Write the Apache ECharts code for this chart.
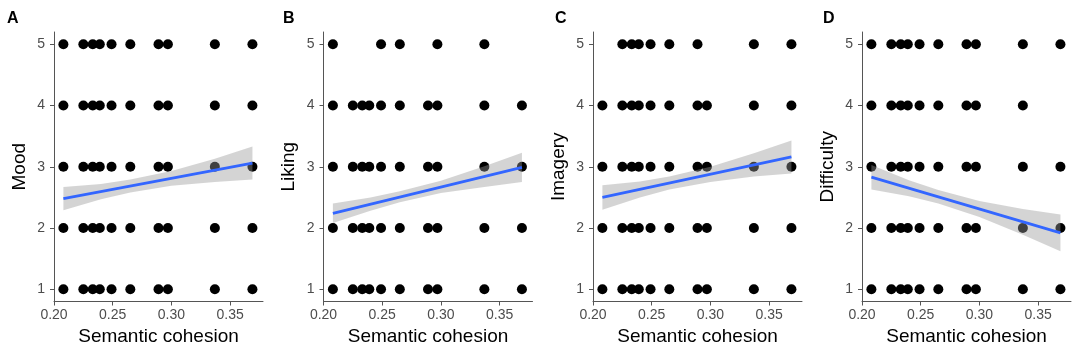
<!DOCTYPE html>
<html>
<head>
<meta charset="utf-8">
<script src="https://cdn.jsdelivr.net/npm/echarts@6/dist/echarts.min.js"></script>
<style>
  html, body { margin: 0; padding: 0; background: #fff; }
  #chart { width: 1084px; height: 360px; }
</style>
</head>
<body>
<div id="chart"></div>
<script>
// Semantic cohesion values of the stimuli (x positions of the dots)
const cohesion = [0.208, 0.225, 0.233, 0.239, 0.249, 0.265, 0.289, 0.297, 0.337, 0.369]
const xTicks = [0.2, 0.25, 0.3, 0.35]
const yTicks = [1, 2, 3, 4, 5]

const panelLetters = ['A', 'B', 'C', 'D']
const panelTitles = ['Mood', 'Liking', 'Imagery', 'Difficulty']

// Which cohesion values have a rating at each level (1..5)
const moodRows = { 1: cohesion, 2: cohesion, 3: cohesion, 4: cohesion, 5: cohesion }
const likingRows = {
  1: cohesion, 2: cohesion, 3: cohesion, 4: cohesion,
  5: [0.208, 0.249, 0.265, 0.297, 0.337],
}
const imageryRows = {
  1: cohesion, 2: cohesion, 3: cohesion, 4: cohesion,
  5: [0.225, 0.233, 0.239, 0.249, 0.265, 0.289, 0.337, 0.369],
}
const difficultyRows = {
  1: cohesion, 2: cohesion, 3: cohesion,
  4: [0.208, 0.225, 0.233, 0.239, 0.249, 0.265, 0.289, 0.297, 0.337],
  5: cohesion,
}

// Linear fit (ends) and confidence band
const fitX = [0.208, 0.369]
const moodFit = [2.48, 3.06]
const likingFit = [2.24, 2.99]
const imageryFit = [2.5, 3.16]
const difficultyFit = [2.83, 1.92]

const bandX = [0.208, 0.24, 0.265, 0.3, 0.337, 0.369]
const moodLo = [2.29, 2.47, 2.58, 2.69, 2.75, 2.79]
const moodHi = [2.67, 2.72, 2.79, 2.93, 3.13, 3.33]
const likingLo = [2.08, 2.28, 2.42, 2.57, 2.67, 2.75]
const likingHi = [2.4, 2.5, 2.6, 2.77, 3.01, 3.23]
const imageryLo = [2.3, 2.5, 2.63, 2.75, 2.84, 2.89]
const imageryHi = [2.7, 2.76, 2.84, 3.0, 3.22, 3.43]
const difficultyLo = [2.63, 2.52, 2.4, 2.18, 1.89, 1.62]
const difficultyHi = [3.03, 2.78, 2.62, 2.44, 2.31, 2.22]

const rows = [moodRows, likingRows, imageryRows, difficultyRows]
const fits = [moodFit, likingFit, imageryFit, difficultyFit]
const los = [moodLo, likingLo, imageryLo, difficultyLo]
const his = [moodHi, likingHi, imageryHi, difficultyHi]

const GRID_LEFTS = [54, 323.5, 593, 862]
const GRID_W = 209
const GRID_TOP = 32
const GRID_H = 269.5
const FONT = '"Liberation Sans", Arial, sans-serif'
const AXIS_COLOR = '#555'
const LABEL_COLOR = '#4d4d4d'

const chart = echarts.init(document.getElementById('chart'))

const grid = []
const xAxis = []
const yAxis = []
const series = []
const graphic = []

GRID_LEFTS.forEach((left, i) => {
  grid.push({ left, top: GRID_TOP, width: GRID_W, height: GRID_H })

  xAxis.push({
    type: 'value',
    gridIndex: i,
    min: 0.2,
    max: 0.378,
    name: 'Semantic cohesion',
    nameLocation: 'middle',
    nameGap: 26,
    nameTextStyle: { color: '#000', fontSize: 19, fontFamily: FONT },
    axisLine: { show: true, lineStyle: { color: AXIS_COLOR, width: 1 } },
    axisTick: { show: true, length: 4, customValues: xTicks, lineStyle: { color: AXIS_COLOR } },
    axisLabel: {
      customValues: xTicks,
      formatter: (v) => v.toFixed(2),
      color: LABEL_COLOR,
      fontSize: 14,
      fontFamily: FONT,
      margin: 7,
    },
    splitLine: { show: false },
  })

  yAxis.push({
    type: 'value',
    gridIndex: i,
    min: 0.8,
    max: 5.2,
    name: panelTitles[i],
    nameLocation: 'middle',
    nameRotate: 90,
    nameGap: 25,
    nameTextStyle: { color: '#000', fontSize: 19, fontFamily: FONT },
    axisLine: { show: true, lineStyle: { color: AXIS_COLOR, width: 1 } },
    axisTick: { show: true, length: 4, customValues: yTicks, lineStyle: { color: AXIS_COLOR } },
    axisLabel: {
      customValues: yTicks,
      color: LABEL_COLOR,
      fontSize: 14,
      fontFamily: FONT,
      margin: 9,
    },
    splitLine: { show: false },
  })

  // dots
  const pts = []
  yTicks.forEach((lvl) => {
    rows[i][lvl].forEach((x) => pts.push([x, lvl]))
  })
  series.push({
    type: 'scatter',
    xAxisIndex: i,
    yAxisIndex: i,
    symbolSize: 10,
    itemStyle: { color: '#000', opacity: 1 },
    data: pts,
    z: 2,
  })

  // confidence band
  const lo = los[i]
  const hi = his[i]
  series.push({
    type: 'custom',
    xAxisIndex: i,
    yAxisIndex: i,
    silent: true,
    data: bandX.map((x, k) => [x, lo[k], hi[k]]),
    renderItem: (params, api) => {
      if (params.dataIndex !== 0) return
      const upper = bandX.map((x, k) => api.coord([x, hi[k]]))
      const lower = bandX.map((x, k) => api.coord([x, lo[k]])).reverse()
      return {
        type: 'polygon',
        shape: { points: upper.concat(lower) },
        style: { fill: 'rgba(153,153,153,0.42)' },
      }
    },
    z: 3,
  })

  // fit line
  series.push({
    type: 'line',
    xAxisIndex: i,
    yAxisIndex: i,
    showSymbol: false,
    silent: true,
    lineStyle: { color: '#3366FF', width: 2.8 },
    data: fitX.map((x, k) => [x, fits[i][k]]),
    z: 4,
  })

  graphic.push({
    type: 'text',
    left: [7, 283, 555, 823][i],
    top: 11,
    style: {
      text: panelLetters[i],
      font: `bold 16px ${FONT}`,
      fill: '#000',
    },
  })
})

chart.setOption({
  animation: false,
  textStyle: { fontFamily: FONT },
  grid,
  xAxis,
  yAxis,
  series,
  graphic,
})
</script>
</body>
</html>
